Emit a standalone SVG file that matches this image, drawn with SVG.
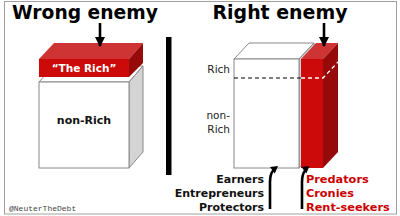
<svg xmlns="http://www.w3.org/2000/svg" width="400" height="216" viewBox="0 0 400 216">
<defs>
<style>
.title{font-family:"DejaVu Sans",Verdana,sans-serif;font-weight:bold;font-size:19px;fill:#000}
.lbl{font-family:"DejaVu Sans",Verdana,sans-serif;font-size:10.5px;fill:#222}
.blbl{font-family:"DejaVu Sans",Verdana,sans-serif;font-weight:bold;font-size:11px;fill:#111}
.rlbl{font-family:"DejaVu Sans",Verdana,sans-serif;font-weight:bold;font-size:11.3px;fill:#cc0000}
.wface{fill:#fff;stroke:#888;stroke-width:1}
.gface{fill:#d4d4d4;stroke:#888;stroke-width:1}
.rfront{fill:#cc0a0a}
.rtop{fill:#cf3434}
.rside{fill:#960a0a}
.arr{stroke:#000;stroke-width:2.6;fill:none}
.head{fill:#000}
</style>
<marker id="ah" viewBox="0 0 10 10" refX="9" refY="5" markerWidth="4" markerHeight="4" orient="auto" markerUnits="strokeWidth">
<path d="M0,0 L10,5 L0,10 z" fill="#000"/>
</marker>
</defs>
<rect x="0" y="0" width="400" height="216" fill="#fff"/>
<rect x="4.5" y="1.5" width="392" height="212.5" fill="#fff" stroke="#a0a0a0" stroke-width="1"/>

<g id="title-wrong"><text class="title" x="85" y="19" text-anchor="middle" textLength="146" lengthAdjust="spacingAndGlyphs">Wrong enemy</text></g>
<g id="title-right"><text class="title" x="280" y="19" text-anchor="middle" textLength="135" lengthAdjust="spacingAndGlyphs">Right enemy</text></g>

<g id="divider"><rect x="166" y="37" width="5.5" height="138" fill="#000"/></g>

<g id="nonrich-left">
<polygon class="wface" points="39,82 53,66 143,66 129,82"/>
<polygon class="gface" points="129,82 143,66 143,152 129,168"/>
<rect class="wface" x="39" y="82" width="90" height="86"/>
<text class="blbl" x="84" y="124" text-anchor="middle" font-size="12">non-Rich</text>
</g>

<g id="rich-slab">
<polygon class="rtop" points="39,59 54,43 143,43 129,59"/>
<polygon class="rside" points="129,59 143,43 143,63 129,77"/>
<rect class="rfront" x="39" y="59" width="90" height="18"/>
<text x="84" y="72" text-anchor="middle" style="font-family:'DejaVu Sans',Verdana,sans-serif;font-weight:bold;font-size:10.5px;fill:#fff">“The Rich”</text>
</g>

<g id="right-white-box">
<polygon class="wface" points="234,59 249,43 314,43 299,59"/>
<polygon class="gface" points="299,59 314,43 314,152 299,168"/>
<rect class="wface" x="234" y="59" width="65" height="109"/>
<line x1="234" y1="78" x2="301" y2="78" stroke="#000" stroke-width="1.2" stroke-dasharray="4,3"/>
</g>

<g id="right-red-box">
<polygon class="rtop" points="301,59 316,43 338,43 323,59"/>
<polygon class="rside" points="323,59 338,43 338,152 323,168"/>
<rect class="rfront" x="301" y="59" width="22" height="109"/>
<polyline points="301,78 323,78 338,62" fill="none" stroke="#fff" stroke-width="1.3" stroke-dasharray="4,3"/>
</g>

<g id="labels-right-box">
<text class="lbl" x="230" y="73" text-anchor="end">Rich</text>
<text class="lbl" x="230" y="119" text-anchor="end">non-</text>
<text class="lbl" x="230" y="133" text-anchor="end">Rich</text>
</g>

<g id="good-labels">
<text class="blbl" x="264" y="183" text-anchor="end">Earners</text>
<text class="blbl" x="264" y="197" text-anchor="end">Entrepreneurs</text>
<text class="blbl" x="264" y="211" text-anchor="end">Protectors</text>
</g>

<g id="bad-labels">
<text class="rlbl" x="306" y="183">Predators</text>
<text class="rlbl" x="306" y="197">Cronies</text>
<text class="rlbl" x="306" y="211">Rent-seekers</text>
</g>

<g id="connectors">
<line class="arr" x1="100" y1="23" x2="100" y2="46" marker-end="url(#ah)"/>
<line class="arr" x1="324" y1="23" x2="324" y2="46" marker-end="url(#ah)"/>
<path class="arr" d="M270,209 L270,182 Q270,174 273.5,170"/>
<polygon class="head" points="278,166 274.8,173.4 270,167"/>
<path class="arr" d="M302,209 L302,182 Q302,174 305.5,170"/>
<polygon class="head" points="309.5,166 306.3,173.4 301.5,167"/>
</g>

<g id="credit"><text x="9" y="211" style="font-family:'Liberation Mono','DejaVu Sans Mono',monospace;font-size:8px;fill:#444">@NeuterTheDebt</text></g>
</svg>
